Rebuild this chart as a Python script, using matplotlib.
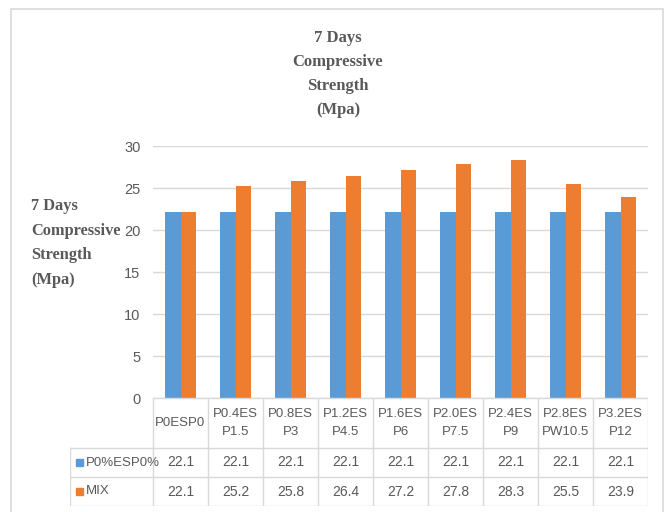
import numpy as np
import matplotlib.pyplot as plt
import matplotlib.font_manager as fm
from matplotlib.patches import Rectangle

# 데이터
categories = ['P0ESP0', 'P0.4ES\nP1.5', 'P0.8ES\nP3', 'P1.2ES\nP4.5', 'P1.6ES\nP6',
              'P2.0ES\nP7.5', 'P2.4ES\nP9', 'P2.8ES\nPW10.5', 'P3.2ES\nP12']
series_names = ['P0%ESP0%', 'MIX']
control = [22.1, 22.1, 22.1, 22.1, 22.1, 22.1, 22.1, 22.1, 22.1]
mix = [22.1, 25.2, 25.8, 26.4, 27.2, 27.8, 28.3, 25.5, 23.9]
yticks = [0, 5, 10, 15, 20, 25, 30]

blue = '#5b9bd5'
orange = '#ed7d31'
grey_txt = '#595959'
grid_c = '#d9d9d9'

# 좁은 글꼴이 있으면 사용
names = [f.name for f in fm.fontManager.ttflist]
if 'Liberation Sans Narrow' in names:
    plt.rcParams['font.family'] = ['Liberation Sans Narrow', 'DejaVu Sans']
    fs = 11.5
else:
    plt.rcParams['font.family'] = ['Liberation Sans', 'DejaVu Sans']
    fs = 9.5

W, H = 668, 512
fig = plt.figure(figsize=(W / 100, H / 100), dpi=100)

def fx(px):
    return px / W

def fy(py):
    return 1 - py / H

# 외곽선
fig.add_artist(Rectangle((fx(11), fy(514)), fx(663) - fx(11), fy(9) - fy(514),
                         transform=fig.transFigure, fill=False, edgecolor='#d9d9d9', lw=1.2))

# 막대 그래프 영역
x0, x1, ytop, ybot = 153, 648, 146, 398
ax = fig.add_axes([fx(x0), fy(ybot), fx(x1) - fx(x0), fy(ytop) - fy(ybot)])
x = np.arange(len(categories))
w = 0.29
ax.bar(x - w / 2, control, w, color=blue, zorder=3)
ax.bar(x + w / 2, mix, w, color=orange, zorder=3)
ax.set_xlim(-0.5, len(categories) - 0.5)
ax.set_ylim(0, 30)
ax.set_yticks(yticks)
ax.set_yticklabels([str(t) for t in yticks], fontsize=fs + 1, color=grey_txt)
ax.set_xticks([])
ax.tick_params(axis='y', length=0, pad=9)
ax.grid(axis='y', color=grid_c, lw=1, zorder=0)
for s in ax.spines.values():
    s.set_visible(False)
ax.axhline(0, color=grid_c, lw=1, zorder=4)

# 제목
title_txt = '7 Days\nCompressive\nStrength\n(Mpa)'
fig.text(fx(338), fy(74), title_txt, ha='center', va='center',
         fontsize=12, fontweight='bold', color=grey_txt, family='Liberation Serif',
         linespacing=1.68)
fig.text(fx(31), fy(243), title_txt, ha='left', va='center',
         fontsize=11.8, fontweight='bold', color=grey_txt, family='Liberation Serif',
         linespacing=1.7)

# 데이터 표
tb = fig.add_axes([fx(70), fy(506), fx(x1) - fx(70), fy(ybot) - fy(506)])
tb.set_xlim(70, x1)
tb.set_ylim(506, ybot)
tb.axis('off')
row_y = [ybot, 448, 477, 506]
col_w = (x1 - x0) / len(categories)
line_kw = dict(color=grid_c, lw=1)
tb.plot([x0, x1], [row_y[0], row_y[0]], **line_kw)
for yy in row_y[1:]:
    tb.plot([70, x1], [yy, yy], **line_kw)
tb.plot([70, 70], [row_y[1], row_y[3]], **line_kw)
for i in range(len(categories) + 1):
    xx = x0 + i * col_w
    tb.plot([xx, xx], [row_y[0], row_y[3]], **line_kw)

for i, cat in enumerate(categories):
    cx = x0 + (i + 0.5) * col_w
    tb.text(cx, (row_y[0] + row_y[1]) / 2, cat, ha='center', va='center',
            fontsize=fs, color=grey_txt, linespacing=1.6)
    tb.text(cx, (row_y[1] + row_y[2]) / 2, f'{control[i]:.1f}', ha='center', va='center',
            fontsize=fs + 0.5, color=grey_txt)
    tb.text(cx, (row_y[2] + row_y[3]) / 2, f'{mix[i]:.1f}', ha='center', va='center',
            fontsize=fs + 0.5, color=grey_txt)

for j, (name, c) in enumerate(zip(series_names, [blue, orange])):
    yc = (row_y[j + 1] + row_y[j + 2]) / 2
    tb.add_patch(Rectangle((76, yc - 3.5), 6.5, 7, color=c))
    tb.text(86, yc, name, ha='left', va='center', fontsize=fs, color=grey_txt)

fig.savefig('out.png', dpi=100)
